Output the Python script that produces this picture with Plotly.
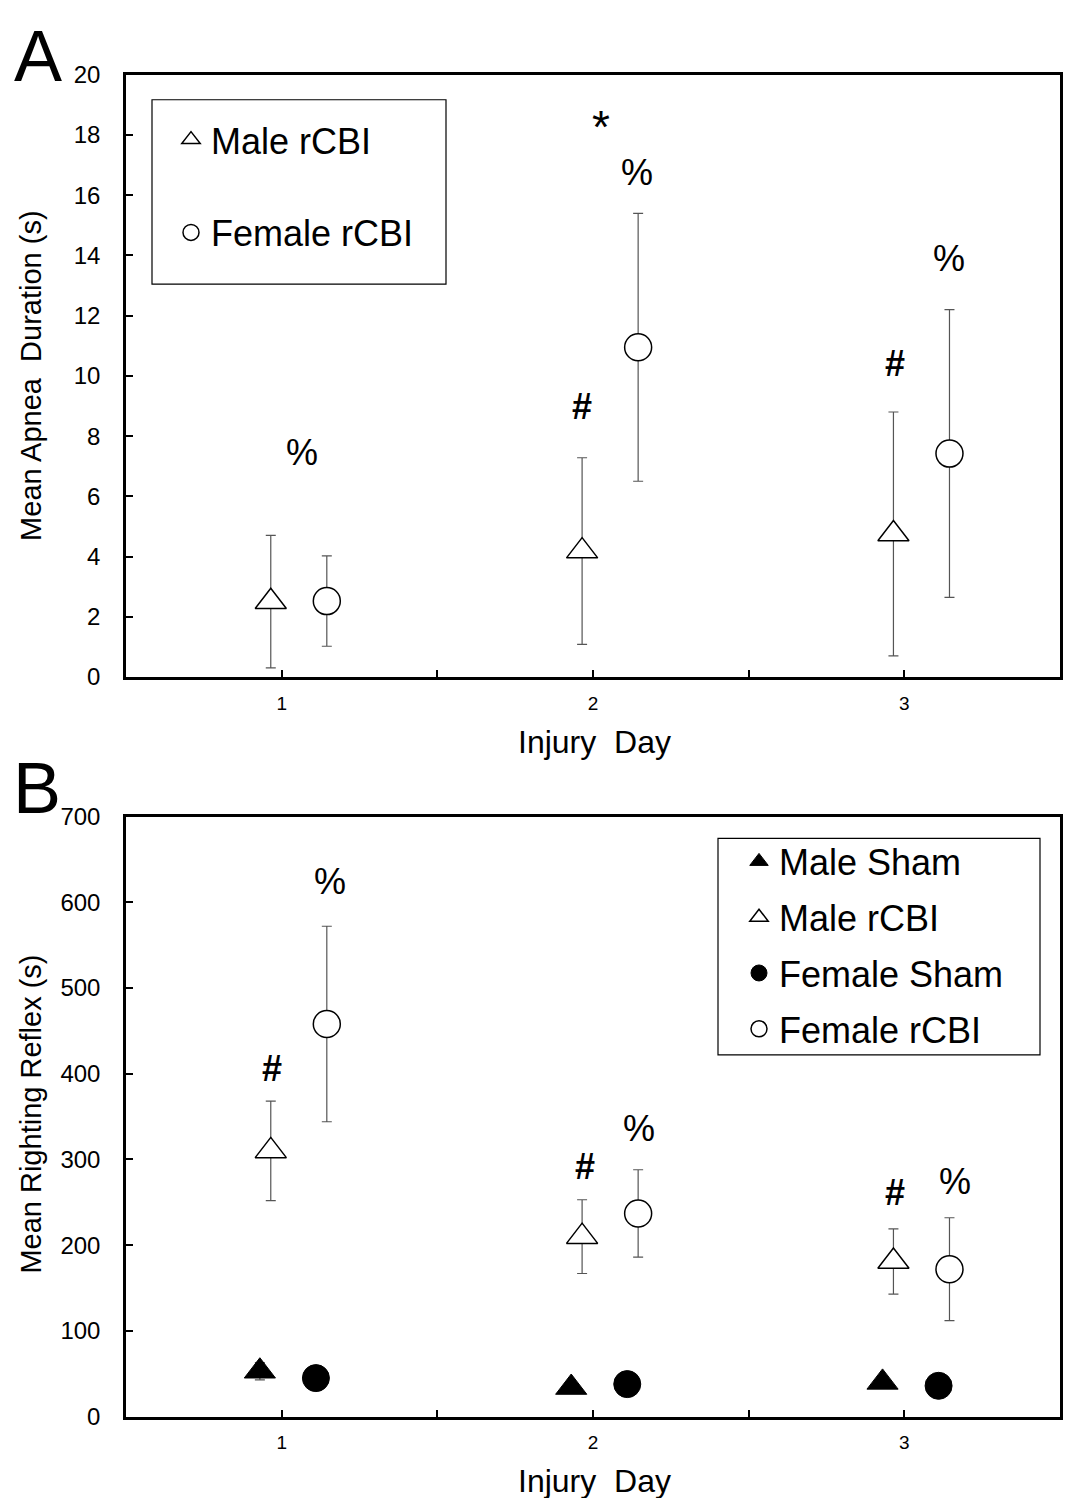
import plotly.graph_objects as go

# ---------------- data ----------------
days = [1, 2, 3]
day_ticks = [1, 1.5, 2, 2.5, 3]
day_ticktext = ["1", "", "2", "", "3"]

# Panel A: mean apnea duration (s)
apnea_male_rcbi = [2.5, 4.18, 4.75]
apnea_male_rcbi_err = [2.2, 3.1, 4.05]
apnea_female_rcbi = [2.52, 10.95, 7.42]
apnea_female_rcbi_err = [1.5, 4.45, 4.78]

# Panel B: mean righting reflex (s)
rr_male_sham = [53, 34, 40]
rr_male_sham_err = [10, 5, 6]
rr_male_rcbi = [310, 210, 181]
rr_male_rcbi_err = [58, 43, 38]
rr_female_sham = [45, 38, 36]
rr_female_sham_err = [6, 5, 5]
rr_female_rcbi = [458, 237, 172]
rr_female_rcbi_err = [114, 51, 60]

# significance marks (label, x, y)
sig_a = [("%", 1.064, 7.46), ("#", 1.965, 8.99), ("*", 2.025, 18.27),
         ("%", 2.141, 16.75), ("#", 2.971, 10.40), ("%", 3.144, 13.90)]
sig_b = [("%", 1.154, 624), ("#", 0.968, 406), ("%", 2.147, 336),
         ("#", 1.974, 292), ("%", 3.163, 274), ("#", 2.971, 261)]

# ---------------- style ----------------
W, H = 1068, 1498
FONT = "Liberation Sans, Arial, sans-serif"
OFF_M_RCBI, OFF_F_RCBI = -0.035, 0.145
OFF_M_SHAM, OFF_F_SHAM = -0.07, 0.11
ERRC = "#555555"


def px(x):
    return x / W


def py(y):
    # vertical placement helper (pixel row -> paper fraction)
    return 1 - ((y - 10) / 0.985) / H


def shift(vals, d):
    return [v + d for v in vals]


def err(arr):
    return dict(type="data", array=arr, visible=True, color=ERRC, thickness=1.2, width=5)


fig = go.Figure()

# Panel A traces
fig.add_trace(go.Scatter(
    x=shift(days, OFF_M_RCBI), y=apnea_male_rcbi, error_y=err(apnea_male_rcbi_err),
    mode="markers", name="Male rCBI", legend="legend", legendgroup="a1",
    marker=dict(symbol="triangle-up", size=27, color="white", line=dict(color="black", width=1.5)),
    xaxis="x", yaxis="y"))
fig.add_trace(go.Scatter(
    x=shift(days, OFF_F_RCBI), y=apnea_female_rcbi, error_y=err(apnea_female_rcbi_err),
    mode="markers", name="Female rCBI", legend="legend", legendgroup="a2",
    marker=dict(symbol="circle", size=27, color="white", line=dict(color="black", width=1.5)),
    xaxis="x", yaxis="y"))

# Panel B traces
fig.add_trace(go.Scatter(
    x=shift(days, OFF_M_SHAM), y=rr_male_sham, error_y=err(rr_male_sham_err),
    mode="markers", name="Male Sham", legend="legend2", legendgroup="b1",
    marker=dict(symbol="triangle-up", size=27, color="black", line=dict(color="black", width=1)),
    xaxis="x2", yaxis="y2"))
fig.add_trace(go.Scatter(
    x=shift(days, OFF_M_RCBI), y=rr_male_rcbi, error_y=err(rr_male_rcbi_err),
    mode="markers", name="Male rCBI", legend="legend2", legendgroup="b2",
    marker=dict(symbol="triangle-up", size=27, color="white", line=dict(color="black", width=1.5)),
    xaxis="x2", yaxis="y2"))
fig.add_trace(go.Scatter(
    x=shift(days, OFF_F_SHAM), y=rr_female_sham, error_y=err(rr_female_sham_err),
    mode="markers", name="Female Sham", legend="legend2", legendgroup="b3",
    marker=dict(symbol="circle", size=27, color="black", line=dict(color="black", width=1)),
    xaxis="x2", yaxis="y2"))
fig.add_trace(go.Scatter(
    x=shift(days, OFF_F_RCBI), y=rr_female_rcbi, error_y=err(rr_female_rcbi_err),
    mode="markers", name="Female rCBI", legend="legend2", legendgroup="b4",
    marker=dict(symbol="circle", size=27, color="white", line=dict(color="black", width=1.5)),
    xaxis="x2", yaxis="y2"))

xdom = [px(126), px(1060)]
xcommon = dict(range=[0.5, 3.5], tickvals=day_ticks, ticktext=day_ticktext,
               ticks="inside", ticklen=7, tickwidth=2, tickcolor="black",
               showline=True, linewidth=2.5, linecolor="black", mirror=True,
               showgrid=False, zeroline=False,
               tickfont=dict(family=FONT, size=19, color="black"),
               ticklabelstandoff=7)
ycommon = dict(ticks="inside", ticklen=7, tickwidth=2, tickcolor="black",
               showline=True, linewidth=2.5, linecolor="black", mirror=True,
               showgrid=False, zeroline=False,
               tickfont=dict(family=FONT, size=24, color="black"),
               ticklabelstandoff=18)

fig.update_layout(
    width=W, height=H, margin=dict(l=0, r=0, t=0, b=0),
    paper_bgcolor="white", plot_bgcolor="white",
    xaxis=dict(domain=xdom, anchor="y", **xcommon),
    yaxis=dict(domain=[py(675), py(71)], anchor="x", range=[0, 20], dtick=2, **ycommon),
    xaxis2=dict(domain=xdom, anchor="y2", **xcommon),
    yaxis2=dict(domain=[py(1417), py(815)], anchor="x2", range=[0, 700], dtick=100, **ycommon),
    legend=dict(x=px(171), y=py(106), xanchor="left", yanchor="top",
                bgcolor="rgba(0,0,0,0)", borderwidth=0, tracegroupgap=43,
                font=dict(family=FONT, size=36, color="black"), itemsizing="trace"),
    legend2=dict(x=px(739), y=py(830), xanchor="left", yanchor="top",
                 bgcolor="rgba(0,0,0,0)", borderwidth=0, tracegroupgap=6,
                 font=dict(family=FONT, size=36, color="black"), itemsizing="trace"),
    showlegend=True,
)

# legend boxes
fig.add_shape(type="rect", xref="paper", yref="paper", x0=px(152), x1=px(446), y0=py(96), y1=py(281),
              line=dict(color="black", width=1.2), fillcolor="rgba(0,0,0,0)")
fig.add_shape(type="rect", xref="paper", yref="paper", x0=px(718), x1=px(1040), y0=py(837), y1=py(1054),
              line=dict(color="black", width=1.2), fillcolor="rgba(0,0,0,0)")

# axis titles
for txt, yy in [("Injury\u00a0\u00a0Day", 740), ("Injury\u00a0\u00a0Day", 1482)]:
    fig.add_annotation(text=txt, xref="paper", yref="paper", x=px(594), y=py(yy), showarrow=False,
                       xanchor="center", yanchor="middle",
                       font=dict(family=FONT, size=32, color="black"))
for txt, yy in [("Mean Apnea\u00a0\u00a0Duration (s)", 373), ("Mean Righting Reflex (s)", 1114)]:
    fig.add_annotation(text=txt, xref="paper", yref="paper", x=px(31), y=py(yy), showarrow=False,
                       xanchor="center", yanchor="middle", textangle=-90,
                       font=dict(family=FONT, size=29, color="black"))

# panel letters
fig.add_annotation(text="A", xref="paper", yref="paper", x=px(38), y=1.0, showarrow=False,
                   font=dict(family=FONT, size=72, color="black"), xanchor="center", yanchor="top")
fig.add_annotation(text="B", xref="paper", yref="paper", x=px(37), y=py(786), showarrow=False,
                   font=dict(family=FONT, size=72, color="black"), xanchor="center", yanchor="middle")

# significance marks
for lab, x, y in sig_a:
    fig.add_annotation(text=lab if lab != "#" else "<b>#</b>", x=x, y=y, xref="x", yref="y", showarrow=False,
                       font=dict(family=FONT, size=46 if lab == "*" else 36, color="black"))
for lab, x, y in sig_b:
    fig.add_annotation(text=lab if lab != "#" else "<b>#</b>", x=x, y=y, xref="x2", yref="y2", showarrow=False,
                       font=dict(family=FONT, size=36, color="black"))

fig.write_html("out.html")
